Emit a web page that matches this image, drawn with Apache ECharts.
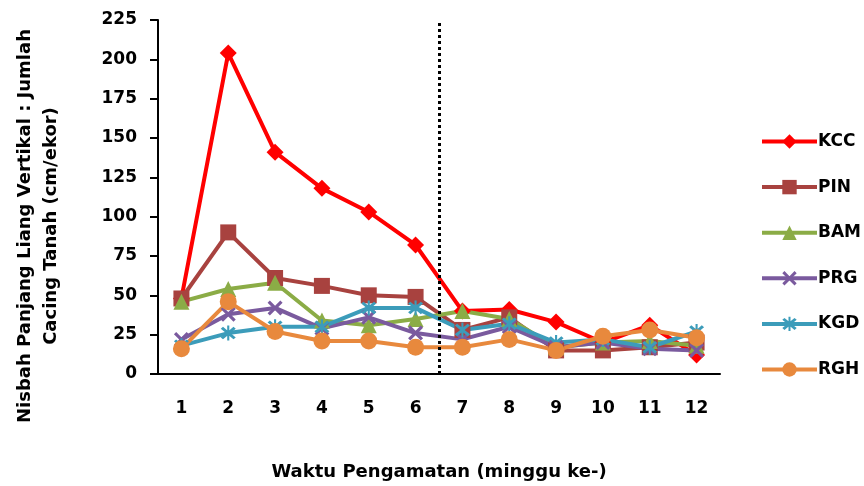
<!DOCTYPE html>
<html>
<head>
<meta charset="utf-8">
<script src="https://cdn.jsdelivr.net/npm/echarts@6/dist/echarts.min.js"></script>
<style>html,body{margin:0;padding:0;background:#fff}#c{width:864px;height:486px}</style>
</head>
<body>
<div id="c"></div>
<script>
const categories = ['1','2','3','4','5','6','7','8','9','10','11','12'];
const yTicks = {min: 0, max: 225, interval: 25};
const KCC = [48, 204, 141, 118, 103, 82, 40, 41, 33, 20, 31, 12];
const PIN = [48, 90, 61, 56, 50, 49, 28, 36, 15, 15, 17, 20];
const BAM = [46, 54, 58, 34, 31, 35, 40, 35, 17, 20, 21, 18];
const PRG = [22, 38, 42, 29, 36, 26, 22, 30, 17, 20, 16, 15];
const KGD = [18, 26, 30, 30, 42, 42, 28, 32, 20, 22, 17, 27];
const RGH = [16, 46, 27, 21, 21, 17, 17, 22, 15, 24, 28, 23];
const dividerAt = 6.5;

const FONT = '"DejaVu Sans"';
const xPath = 'path://M0,1.5 L1.5,0 L5,3.5 L8.5,0 L10,1.5 L6.5,5 L10,8.5 L8.5,10 L5,6.5 L1.5,10 L0,8.5 L3.5,5 Z';
const starPath = 'path://M0,1.5 L1.5,0 L5,3.5 L8.5,0 L10,1.5 L6.5,5 L10,8.5 L8.5,10 L5,6.5 L1.5,10 L0,8.5 L3.5,5 Z M4.3,-1 L5.7,-1 L5.7,11 L4.3,11 Z';

function mk(name, data, color, symbol, size) {
  return {
    name, type: 'line', data, symbol, symbolSize: size,
    lineStyle: {color, width: 4},
    itemStyle: {color},
    emphasis: {disabled: true},
    z: 3
  };
}

const chart = echarts.init(document.getElementById('c'), null, {renderer: 'canvas'});
chart.setOption({
  animation: false,
  backgroundColor: '#ffffff',
  textStyle: {fontFamily: FONT},
  grid: {left: 158, right: 144, top: 20, bottom: 108},
  legend: {
    orient: 'vertical', left: 755, top: 128,
    itemWidth: 55, itemHeight: 18, itemGap: 28.6,
    data: ['KCC','PIN','BAM','PRG','KGD','RGH'],
    lineStyle: {width: 4},
    textStyle: {fontFamily: FONT, fontWeight: 'bold', fontSize: 17, color: '#000', padding: [0,0,0,-4]}
  },
  xAxis: [{
    type: 'category', data: categories, boundaryGap: true,
    axisLine: {lineStyle: {color: '#000', width: 2}},
    axisTick: {alignWithLabel: true, length: 5, lineStyle: {color: '#000', width: 2}},
    axisLabel: {color: '#000', fontWeight: 'bold', fontSize: 17, fontFamily: FONT, margin: 26},
    name: 'Waktu Pengamatan (minggu ke-)', nameLocation: 'middle', nameGap: 89,
    nameTextStyle: {color: '#000', fontWeight: 'bold', fontSize: 18, fontFamily: FONT},
    splitLine: {show: false}
  }, {
    type: 'value', min: 0.5, max: 12.5, show: false
  }],
  yAxis: {
    type: 'value', min: yTicks.min, max: yTicks.max, interval: yTicks.interval,
    axisLine: {show: true, lineStyle: {color: '#000', width: 2}},
    axisTick: {show: true, length: 8, lineStyle: {color: '#000', width: 2}},
    axisLabel: {color: '#000', fontWeight: 'bold', fontSize: 17, fontFamily: FONT, margin: 21},
    splitLine: {show: false}
  },
  graphic: [{
    type: 'text', x: 38, y: 226, rotation: Math.PI / 2,
    style: {
      text: 'Nisbah Panjang Liang Vertikal : Jumlah\nCacing Tanah (cm/ekor)',
      fill: '#000', font: 'bold 18px ' + FONT, align: 'center', verticalAlign: 'middle', lineHeight: 26
    }
  }],
  series: [
    mk('KCC', KCC, '#FF0000', 'diamond', 17),
    mk('PIN', PIN, '#A8423F', 'rect', 16),
    mk('BAM', BAM, '#8BAC46', 'triangle', 16),
    mk('PRG', PRG, '#7A5A9E', xPath, 15),
    mk('KGD', KGD, '#3C9CBA', starPath, 15),
    mk('RGH', RGH, '#E8893D', 'circle', 17),
    {
      name: 'divider', type: 'line', xAxisIndex: 1, data: [[dividerAt, 0]],
      symbol: 'none', lineStyle: {opacity: 0}, silent: true,
      markLine: {
        silent: true, symbol: 'none', label: {show: false},
        lineStyle: {color: '#000', width: 3, type: [3, 3]},
        data: [{xAxis: dividerAt}]
      },
      z: 2
    }
  ]
});
</script>
</body>
</html>
